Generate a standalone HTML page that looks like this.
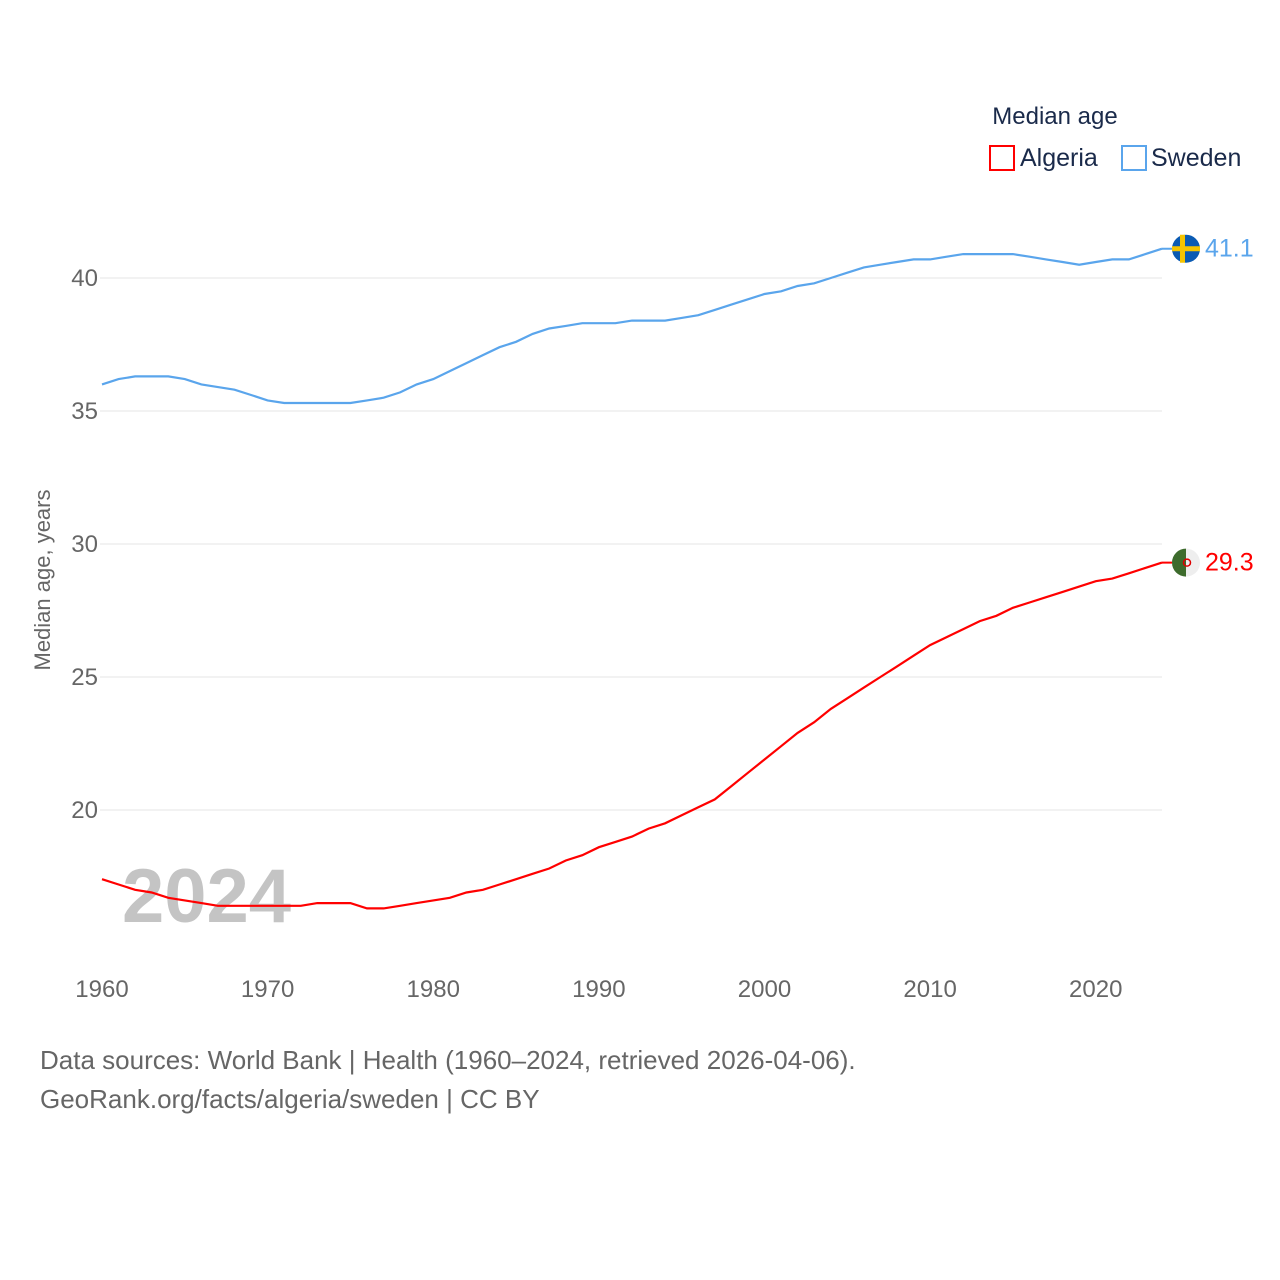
<!DOCTYPE html>
<html><head><meta charset="utf-8"><style>
html,body{margin:0;padding:0;background:#fff;}
svg{display:block;font-family:"Liberation Sans",sans-serif;}
</style></head><body>
<svg id="chart" width="1280" height="1280" viewBox="0 0 1280 1280">
<g id="grid"></g>
<text x="1055" y="124" font-size="24" fill="#1a2a4a" text-anchor="middle">Median age</text>
<g>
<rect x="990" y="146" width="24" height="24" fill="none" stroke="#ff0000" stroke-width="2"/>
<text x="1020" y="166" font-size="25" fill="#1a2a4a">Algeria</text></g>
<g>
<rect x="1122" y="146" width="24" height="24" fill="none" stroke="#5aa5ec" stroke-width="2"/>
<text x="1151" y="166" font-size="25" fill="#1a2a4a">Sweden</text></g>
<text transform="translate(50,580) rotate(-90)" font-size="22" fill="#666" text-anchor="middle">Median age, years</text>
<text x="122" y="922" font-size="76" font-weight="bold" fill="#c4c4c4">2024</text>
<g id="series"></g>
<text x="40" y="1069" font-size="26" fill="#666">Data sources: World Bank | Health (1960–2024, retrieved 2026-04-06).</text>
<text x="40" y="1108" font-size="26" fill="#666">GeoRank.org/facts/algeria/sweden | CC BY</text>
</svg>
<script>
const years=[];for(let y=1960;y<=2024;y++)years.push(y);
const sweden=[36.0,36.2,36.3,36.3,36.3,36.2,36.0,35.9,35.8,35.6,35.4,35.3,35.3,35.3,35.3,35.3,35.4,35.5,35.7,36.0,36.2,36.5,36.8,37.1,37.4,37.6,37.9,38.1,38.2,38.3,38.3,38.3,38.4,38.4,38.4,38.5,38.6,38.8,39.0,39.2,39.4,39.5,39.7,39.8,40.0,40.2,40.4,40.5,40.6,40.7,40.7,40.8,40.9,40.9,40.9,40.9,40.8,40.7,40.6,40.5,40.6,40.7,40.7,40.9,41.1];
const algeria=[17.4,17.2,17.0,16.9,16.7,16.6,16.5,16.4,16.4,16.4,16.4,16.4,16.4,16.5,16.5,16.5,16.3,16.3,16.4,16.5,16.6,16.7,16.9,17.0,17.2,17.4,17.6,17.8,18.1,18.3,18.6,18.8,19.0,19.3,19.5,19.8,20.1,20.4,20.9,21.4,21.9,22.4,22.9,23.3,23.8,24.2,24.6,25.0,25.4,25.8,26.2,26.5,26.8,27.1,27.3,27.6,27.8,28.0,28.2,28.4,28.6,28.7,28.9,29.1,29.3];
const yTicks=[20,25,30,35,40];
const xTicks=[1960,1970,1980,1990,2000,2010,2020];
const X=y=>102+(y-1960)*(1162-102)/64;
const Y=v=>278+(40-v)*26.6;
const NS="http://www.w3.org/2000/svg";
function mk(tag,attrs,parent){const e=document.createElementNS(NS,tag);for(const k in attrs)e.setAttribute(k,attrs[k]);parent.appendChild(e);return e;}
const grid=document.getElementById('grid');
yTicks.forEach(t=>{
 const l=mk('line',{x1:100,x2:1162,y1:Y(t),y2:Y(t),stroke:'#e6e6e6','stroke-width':1},grid);
 
 
 const tx=mk('text',{x:98,y:Y(t)+8,'font-size':24,fill:'#666','text-anchor':'end'},grid);tx.textContent=t;
 
 
});
xTicks.forEach(t=>{
 const tx=mk('text',{x:X(t),y:997,'font-size':24,fill:'#666','text-anchor':'middle'},grid);tx.textContent=t;
 
 
});
const s=document.getElementById('series');
function line(data,color,name){
 const d=data.map((v,i)=>(i?'L':'M')+X(years[i]).toFixed(1)+' '+Y(v).toFixed(1)).join(' ');
 const p=mk('path',{d:d,fill:'none',stroke:color,'stroke-width':2.2},s);
 
 
 const last=data[data.length-1];
 mk('line',{x1:X(2024),x2:1176,y1:Y(last),y2:Y(last),stroke:color,'stroke-width':2},s);
 const lb=mk('text',{x:1205,y:Y(last)+8,'font-size':25,fill:color},s);lb.textContent=last.toFixed(1);
 
 
 return Y(last);
}
const ys=line(sweden,'#5aa5ec','sweden');
const ya=line(algeria,'#ff0000','algeria');
const fs=mk('g',{},s);


mk('circle',{cx:1186,cy:ys,r:14,fill:'#0b5bb3'},fs);
mk('rect',{x:1172,y:ys-2.5,width:28,height:5,fill:'#f5c400'},fs);
mk('rect',{x:1180,y:ys-14,width:5,height:28,fill:'#f5c400'},fs);
const fa=mk('g',{},s);


mk('circle',{cx:1186,cy:ya,r:14,fill:'#eeeeee'},fa);
mk('path',{d:`M1186 ${ya-14} A14 14 0 0 0 1186 ${ya+14} Z`,fill:'#3d6b2c'},fa);
mk('circle',{cx:1187,cy:ya,r:3.5,fill:'none',stroke:'#d00','stroke-width':1.5},fa);
</script>
</body></html>
